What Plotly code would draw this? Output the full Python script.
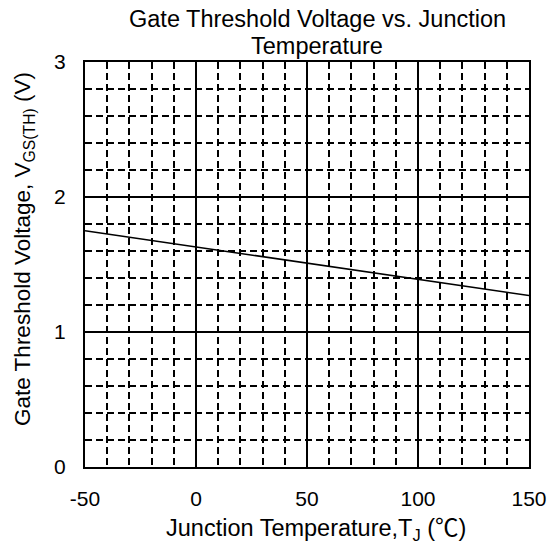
import plotly.graph_objects as go

temps = [-50, 0, 50, 100, 150]
vth = [1.75, 1.63, 1.51, 1.39, 1.27]
x_ticks = [-50, 0, 50, 100, 150]
y_ticks = [0, 1, 2, 3]

title_lines = ["Gate Threshold Voltage vs. Junction", "Temperature"]
x_title = "Junction Temperature,T<sub>J</sub> (<span style='font-family:Noto Sans CJK SC'>℃</span>)"
y_title = "Gate Threshold Voltage, V<sub>GS(TH)</sub> (V)"

FONT = "Liberation Sans, Arial, sans-serif"

fig = go.Figure()
fig.add_trace(go.Scatter(x=temps, y=vth, mode="lines",
                         line=dict(color="black", width=1.6), showlegend=False))

axis_common = dict(
    showline=True, linecolor="black", linewidth=2, mirror=True,
    showgrid=True, gridcolor="black", gridwidth=1.5,
    ticks="", zeroline=False, automargin=False,
    tickfont=dict(family=FONT, size=21, color="black"),
)

fig.update_xaxes(range=[-50, 150], tickvals=x_ticks, ticktext=[str(v) for v in x_ticks],
                 minor=dict(dtick=10, tick0=-50, showgrid=True, gridcolor="black",
                            gridwidth=1.5, griddash="7px,4px"),
                 ticklabelstandoff=12,
                 **axis_common)
fig.update_yaxes(range=[0, 3], tickvals=y_ticks, ticktext=[str(v) for v in y_ticks],
                 minor=dict(dtick=0.2, tick0=0, showgrid=True, gridcolor="black",
                            gridwidth=1.5, griddash="7px,4px"),
                 ticklabelstandoff=13,
                 **axis_common)

# plot area: x 85..529, y 62..467 px
W, H = 553, 547
L, R, T, B = 85, 24, 62, 80
pw, ph = W - L - R, H - T - B

def px(xp):
    return (xp - L) / pw

def py(yp):
    return (H - B - yp) / ph

annos = [
    dict(text=title_lines[0], x=px(317), y=py(19), font=dict(size=23.5)),
    dict(text=title_lines[1], x=px(317), y=py(46), font=dict(size=23.5)),
    dict(text=x_title, x=px(316), y=py(526), font=dict(size=23.5)),
    dict(text=y_title, x=px(24), y=py(249), font=dict(size=22.5), textangle=-90),
]
for a in annos:
    a["font"].update(family=FONT, color="black")
    fig.add_annotation(xref="paper", yref="paper", xanchor="center", yanchor="middle",
                       showarrow=False, **a)

fig.update_layout(
    width=W, height=H,
    margin=dict(l=L, r=R, t=T, b=B),
    plot_bgcolor="white", paper_bgcolor="white",
)

fig.write_html("out.html", post_script="document.body.style.margin='0';",
               config={"displayModeBar": False})
